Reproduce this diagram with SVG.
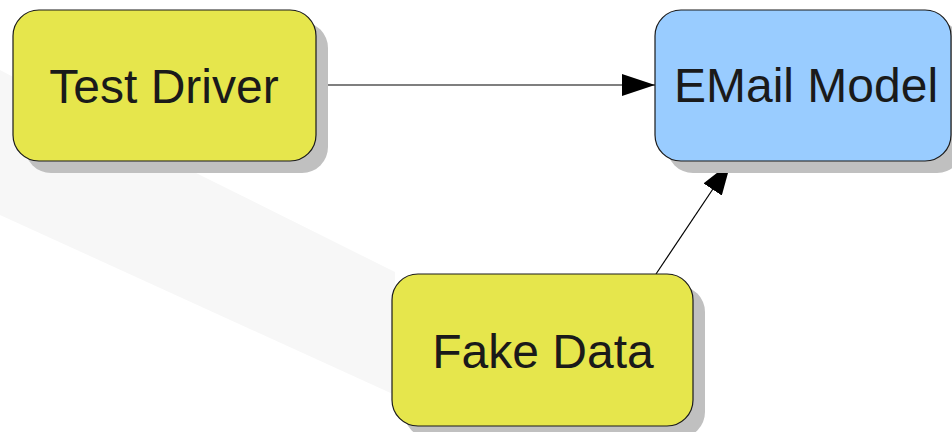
<svg xmlns="http://www.w3.org/2000/svg" width="952" height="432" viewBox="0 0 952 432">
<defs>
<style>
.shadow{fill:#c0c0c0;}
.box{stroke:#1a1a1a;stroke-width:1.2;}
.yellow{fill:#e6e64c;}
.blue{fill:#99ccff;}
.label{font-family:"Liberation Sans",Arial,sans-serif;font-size:48px;fill:#1a1a1a;text-anchor:middle;}
.conn{stroke:#000;stroke-width:1.2;fill:none;}
</style>
<marker id="arrow" viewBox="0 0 33 22" refX="33" refY="11" markerWidth="33" markerHeight="22" markerUnits="userSpaceOnUse" orient="auto">
<path d="M0,0 L33,11 L0,22 Z" fill="#000"/>
</marker>
</defs>
<rect width="952" height="432" fill="#ffffff"/>
<polygon points="0,70 200,175 395,272 395,395 0,215" fill="#f7f7f7"/>
<g id="connectors">
<line class="conn" x1="328" y1="85" x2="655" y2="85" marker-end="url(#arrow)"/>
<line class="conn" x1="656" y1="274" x2="731" y2="162" marker-end="url(#arrow)"/>
</g>
<g id="test-driver">
<rect class="shadow" x="25" y="22" width="303" height="151" rx="26"/>
<rect class="box yellow" x="13" y="10" width="303" height="151" rx="26"/>
<text class="label" x="164" y="103">Test Driver</text>
</g>
<g id="email-model">
<rect class="shadow" x="667" y="22" width="296" height="151" rx="26"/>
<rect class="box blue" x="655" y="10" width="296" height="151" rx="26"/>
<text class="label" x="806" y="102">EMail Model</text>
</g>
<g id="fake-data">
<rect class="shadow" x="404" y="286" width="301" height="152" rx="26"/>
<rect class="box yellow" x="392" y="274" width="301" height="152" rx="26"/>
<text class="label" x="543" y="368">Fake Data</text>
</g>
</svg>
